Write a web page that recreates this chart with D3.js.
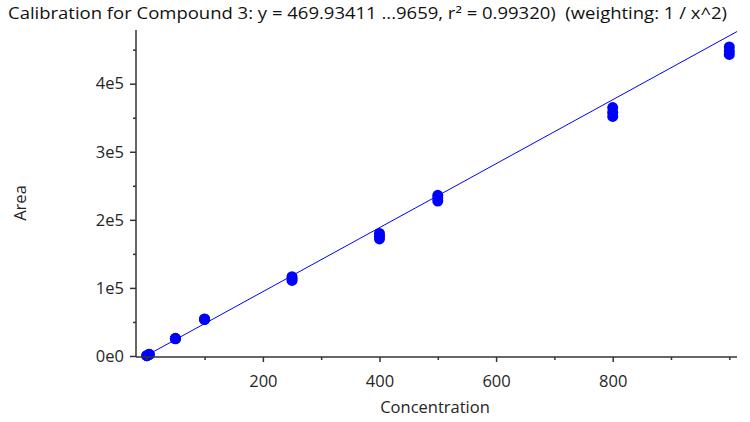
<!DOCTYPE html>
<html>
<head>
<meta charset="utf-8">
<script src="https://cdn.jsdelivr.net/npm/d3@7"></script>
<style>
  html, body { margin: 0; padding: 0; background: #ffffff; }
  svg { display: block; }
  text { font-family: "Open Sans", "Noto Sans", sans-serif; }
</style>
</head>
<body>
<svg id="chart" width="750" height="422"></svg>
<script>
// ---- data ----
const titleText = "Calibration for Compound 3: y = 469.93411 ...9659, r\u00B2 = 0.99320)\u00A0\u00A0(weighting: 1 / x^2)";
const xLabel = "Concentration";
const yLabel = "Area";
const concentrations = [1, 5, 50, 100, 250, 400, 500, 800, 1000];
const rep1 = [470, 2300, 25500, 53500, 111000, 172000, 227500, 352000, 443000];
const rep2 = [520, 2400, 26000, 54500, 114000, 176000, 232000, 358000, 448000];
const rep3 = [450, 2200, 25200, 54000, 116500, 180000, 236000, 365000, 454000];
const slope = 469.93411;
const intercept = 500;
const xMajorTicks = [200, 400, 600, 800];
const xMinorTicks = [0, 100, 300, 500, 700, 900, 1000];
const yMajorTicks = [0, 100000, 200000, 300000, 400000];
const yMinorTicks = [50000, 150000, 250000, 350000, 450000];
const yTickLabels = ["0e0", "1e5", "2e5", "3e5", "4e5"];

// ---- layout ----
const svg = d3.select("#chart");
const mLeft = 136, mRight = 737, mTop = 30, mBottom = 357;

const x = d3.scaleLinear().domain([-17.6, 1013.2]).range([mLeft, mRight]);
const y = d3.scaleLinear().domain([-1500, 478900]).range([mBottom, mTop]);

const points = [];
concentrations.forEach((c, i) => {
  [rep1[i], rep2[i], rep3[i]].forEach(v => points.push({c, v}));
});

const textColor = "#262626";

// title
svg.append("text")
  .attr("x", 8).attr("y", 19)
  .attr("font-size", 15.5)
  .attr("fill", "#111")
  .attr("textLength", 719)
  .attr("lengthAdjust", "spacingAndGlyphs")
  .text(titleText);

// regression line
const lineX = [concentrations[0], x.domain()[1]];
svg.append("path")
  .attr("d", d3.line().x(d => x(d)).y(d => y(slope * d + intercept))(lineX))
  .attr("stroke", "#0000ff").attr("stroke-width", 1).attr("fill", "none");

// points
svg.append("g").selectAll("circle").data(points).join("circle")
  .attr("cx", d => x(d.c)).attr("cy", d => y(d.v))
  .attr("r", 5.5).attr("fill", "#0000ff");

// axes
const axisColor = "#333";
const gx = svg.append("g").attr("transform", `translate(0,${mBottom})`)
  .call(d3.axisBottom(x).tickValues(xMajorTicks).tickSize(5).tickSizeOuter(0).tickPadding(13));
const gx2 = svg.append("g").attr("transform", `translate(0,${mBottom})`)
  .call(d3.axisBottom(x).tickValues(xMinorTicks).tickSize(3).tickSizeOuter(0).tickFormat(""));
gx2.select(".domain").remove();
gx.select(".domain").attr("d", `M${mLeft},0H${mRight}`);

const gy = svg.append("g").attr("transform", `translate(${mLeft},0)`)
  .call(d3.axisLeft(y).tickValues(yMajorTicks).tickSize(6).tickSizeOuter(0).tickPadding(6)
    .tickFormat((d, i) => yTickLabels[i]));
const gy2 = svg.append("g").attr("transform", `translate(${mLeft},0)`)
  .call(d3.axisLeft(y).tickValues(yMinorTicks).tickSize(3).tickSizeOuter(0).tickFormat(""));
gy2.select(".domain").remove();
gy.select(".domain").attr("d", `M0,${mTop}V${mBottom}`);

[gx, gx2, gy, gy2].forEach(g => {
  g.selectAll("path, line").attr("stroke", axisColor).attr("stroke-width", 1.5);
  g.selectAll("text").attr("font-size", 16.5).attr("fill", textColor)
    .attr("font-family", "'Open Sans', 'Noto Sans', sans-serif");
});

// axis labels
svg.append("text")
  .attr("x", 435).attr("y", 413)
  .attr("text-anchor", "middle").attr("font-size", 16.5).attr("fill", textColor)
  .text(xLabel);
svg.append("text")
  .attr("transform", "translate(26,203) rotate(-90)")
  .attr("text-anchor", "middle").attr("font-size", 16.5).attr("fill", textColor)
  .text(yLabel);
</script>
</body>
</html>
